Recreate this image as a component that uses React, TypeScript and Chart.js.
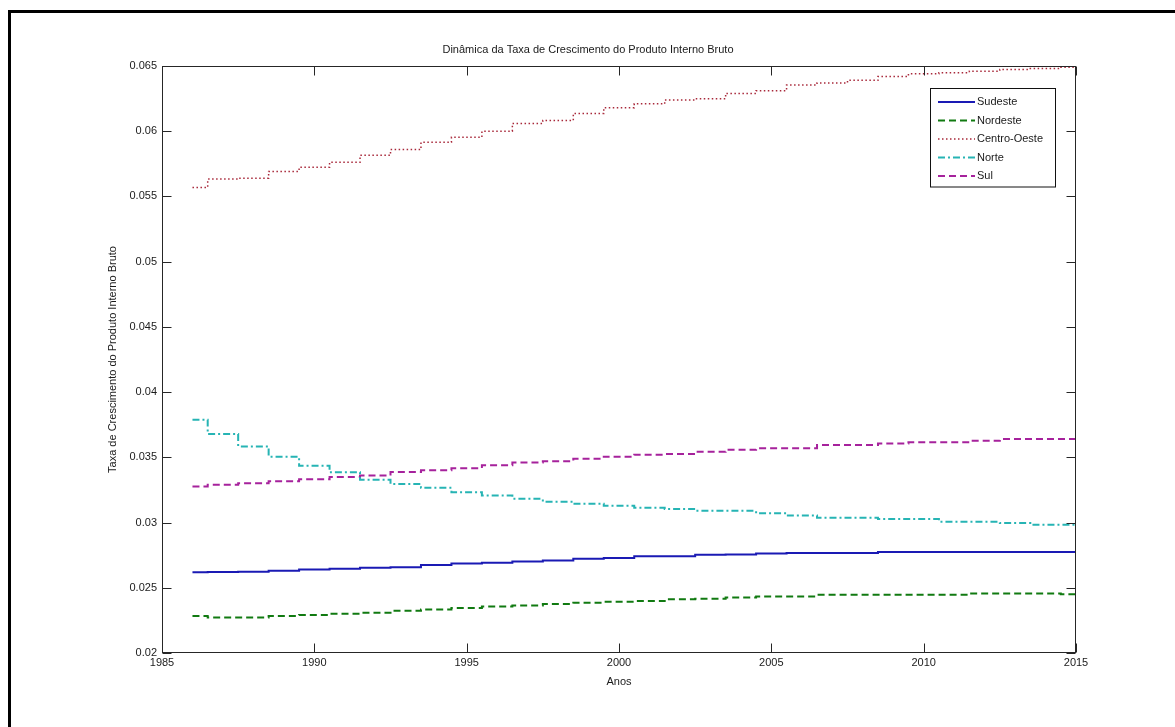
import React, { useEffect, useRef } from "react";
import { Chart, registerables } from "chart.js";

Chart.register(...registerables);

const chartTitle = "Dinâmica da Taxa de Crescimento do Produto Interno Bruto";
const xAxisTitle = "Anos";
const yAxisTitle = "Taxa de Crescimento do Produto Interno Bruto";

const years = [
  1986, 1987, 1988, 1989, 1990, 1991, 1992, 1993, 1994, 1995,
  1996, 1997, 1998, 1999, 2000, 2001, 2002, 2003, 2004, 2005,
  2006, 2007, 2008, 2009, 2010, 2011, 2012, 2013, 2014, 2015,
];

const sudeste = [
  0.02619, 0.0262, 0.02622, 0.0263, 0.0264, 0.02645, 0.02653, 0.02658, 0.02675, 0.02686,
  0.02692, 0.02701, 0.0271, 0.02722, 0.02729, 0.02742, 0.02742, 0.02754, 0.02756, 0.02762,
  0.02767, 0.02767, 0.02767, 0.02775, 0.02775, 0.02775, 0.02775, 0.02775, 0.02775, 0.02775,
];

const nordeste = [
  0.02283, 0.02273, 0.02273, 0.02283, 0.02291, 0.02301, 0.02309, 0.02324, 0.02334, 0.02345,
  0.02357, 0.02365, 0.02375, 0.02385, 0.02392, 0.02398, 0.02413, 0.02416, 0.02426, 0.02434,
  0.02434, 0.02446, 0.02446, 0.02446, 0.02446, 0.02446, 0.02457, 0.02457, 0.02457, 0.02451,
];

const centroOeste = [
  0.05569, 0.05633, 0.0564, 0.05692, 0.05723, 0.05762, 0.05815, 0.05859, 0.05915, 0.05954,
  0.06, 0.06059, 0.06082, 0.06136, 0.0618, 0.0621, 0.0624, 0.06249, 0.0629, 0.0631,
  0.06354, 0.0637, 0.0639, 0.0642, 0.0644, 0.06449, 0.0646, 0.06474, 0.0648, 0.0649,
];

const norte = [
  0.03788, 0.03678, 0.03584, 0.03505, 0.03436, 0.03385, 0.03329, 0.03296, 0.03266, 0.03233,
  0.03207, 0.03182, 0.0316, 0.03144, 0.03129, 0.03113, 0.03103, 0.0309, 0.0309, 0.03072,
  0.03055, 0.03037, 0.03037, 0.03027, 0.03027, 0.03006, 0.03006, 0.02996, 0.02983, 0.02983,
];

const sul = [
  0.03276, 0.03289, 0.03302, 0.03317, 0.03332, 0.0335, 0.0336, 0.03388, 0.03401, 0.03416,
  0.0344, 0.0346, 0.0347, 0.0349, 0.03505, 0.0352, 0.03525, 0.03543, 0.03559, 0.0357,
  0.0357, 0.03594, 0.03594, 0.03607, 0.03615, 0.03615, 0.03627, 0.0364, 0.0364, 0.0364,
];

const seriesNames = ["Sudeste", "Nordeste", "Centro-Oeste", "Norte", "Sul"];

const xTicks = [1985, 1990, 1995, 2000, 2005, 2010, 2015];
const xTickLabels = ["1985", "1990", "1995", "2000", "2005", "2010", "2015"];
const yTicks = [0.02, 0.025, 0.03, 0.035, 0.04, 0.045, 0.05, 0.055, 0.06, 0.065];
const yTickLabels = ["0.02", "0.025", "0.03", "0.035", "0.04", "0.045", "0.05", "0.055", "0.06", "0.065"];

const FONT_FAMILY = "'Liberation Sans', Arial, Helvetica, sans-serif";
const TEXT_COLOR = "#1a1a1a";

const framePlugin = {
  id: "matlabFrame",
  beforeDraw(chart: any) {
    const { ctx, width, height } = chart;
    ctx.save();
    ctx.fillStyle = "#ffffff";
    ctx.fillRect(0, 0, width, height);
    ctx.fillStyle = "#000000";
    ctx.fillRect(8, 10, width - 8, 3);
    ctx.fillRect(8, 10, 3, height - 10);
    ctx.restore();
  },
  afterDraw(chart: any) {
    const { ctx, chartArea: a, scales } = chart;
    const xs = scales.x;
    const ys = scales.y;
    ctx.save();
    ctx.setLineDash([]);
    ctx.lineWidth = 1;
    ctx.strokeStyle = "#262626";
    const L = Math.round(a.left) + 0.5;
    const R = Math.round(a.right) - 0.5;
    const T = Math.round(a.top) + 0.5;
    const B = Math.round(a.bottom) - 0.5;
    ctx.strokeRect(L, T, R - L, B - T);
    const tl = 9;
    ctx.beginPath();
    for (const t of xs.ticks) {
      const px = Math.round(xs.getPixelForValue(t.value)) + 0.5;
      ctx.moveTo(px, B);
      ctx.lineTo(px, B - tl);
      ctx.moveTo(px, T);
      ctx.lineTo(px, T + tl);
    }
    for (const t of ys.ticks) {
      const py = Math.round(ys.getPixelForValue(t.value)) + 0.5;
      ctx.moveTo(L, py);
      ctx.lineTo(L + tl, py);
      ctx.moveTo(R, py);
      ctx.lineTo(R - tl, py);
    }
    ctx.stroke();

    // legend
    const datasets = chart.data.datasets;
    const boxW = 125;
    const rowH = 18.5;
    const boxX = Math.round(a.right) - 21 - boxW;
    const boxY = Math.round(a.top) + 22;
    const boxH = rowH * datasets.length + 6;
    ctx.fillStyle = "#ffffff";
    ctx.fillRect(boxX, boxY, boxW, boxH);
    ctx.strokeStyle = "#111111";
    ctx.strokeRect(boxX + 0.5, boxY + 0.5, boxW, boxH);
    ctx.font = `11px ${FONT_FAMILY}`;
    ctx.textBaseline = "middle";
    ctx.textAlign = "left";
    datasets.forEach((ds: any, i: number) => {
      const cy = boxY + 14 + i * rowH;
      ctx.save();
      ctx.strokeStyle = ds.borderColor;
      ctx.lineWidth = ds.borderWidth;
      ctx.setLineDash(ds.borderDash || []);
      ctx.beginPath();
      ctx.moveTo(boxX + 8, cy);
      ctx.lineTo(boxX + 45, cy);
      ctx.stroke();
      ctx.restore();
      ctx.fillStyle = TEXT_COLOR;
      ctx.fillText(ds.label, boxX + 47, cy);
    });
    ctx.restore();
  },
};

function toPoints(values: number[]) {
  return years.map((x, i) => ({ x, y: values[i] }));
}

export default function App() {
  const canvasRef = useRef<HTMLCanvasElement | null>(null);

  useEffect(() => {
    const canvas = canvasRef.current;
    if (!canvas) return;
    const font = { family: FONT_FAMILY, size: 11, weight: "normal" as const };
    const series = [sudeste, nordeste, centroOeste, norte, sul];
    const colors = ["#1a1ab4", "#117a11", "#a8283a", "#26b4b4", "#a6229c"];
    const dashes = [[], [7, 4], [1.5, 2.5], [7, 3, 2, 3], [7, 4]];
    const widths = [2, 2, 1.5, 2, 2];

    const chart = new Chart(canvas, {
      type: "line",
      data: {
        datasets: series.map((vals, i) => ({
          label: seriesNames[i],
          data: toPoints(vals),
          borderColor: colors[i],
          backgroundColor: colors[i],
          borderWidth: widths[i],
          borderDash: dashes[i],
          pointRadius: 0,
          pointHoverRadius: 0,
          stepped: "middle" as const,
          fill: false,
          tension: 0,
        })),
      },
      options: {
        animation: false,
        responsive: false,
        devicePixelRatio: 1,
        events: [],
        layout: { padding: { left: 100, right: 99, top: 0, bottom: 34 } },
        plugins: {
          legend: { display: false },
          tooltip: { enabled: false },
          title: {
            display: true,
            text: chartTitle,
            color: TEXT_COLOR,
            font,
            padding: { top: 43, bottom: 9.8 },
          },
        },
        scales: {
          x: {
            type: "linear",
            min: 1985,
            max: 2015,
            grid: { display: false, drawTicks: false },
            border: { display: false },
            ticks: {
              color: TEXT_COLOR,
              font,
              padding: 3,
              autoSkip: false,
              maxRotation: 0,
              callback: (_v: any, idx: number) => xTickLabels[idx],
            },
            afterBuildTicks: (s: any) => {
              s.ticks = xTicks.map((value) => ({ value }));
            },
            afterFit: (s: any) => {
              s.height = 40;
            },
            title: {
              display: true,
              text: xAxisTitle,
              color: TEXT_COLOR,
              font,
              padding: { top: 0, bottom: 4 },
            },
          },
          y: {
            type: "linear",
            min: 0.02,
            max: 0.065,
            grid: { display: false, drawTicks: false },
            border: { display: false },
            ticks: {
              color: TEXT_COLOR,
              font,
              padding: 5,
              autoSkip: false,
              callback: (_v: any, idx: number) => yTickLabels[idx],
            },
            afterBuildTicks: (s: any) => {
              s.ticks = yTicks.map((value) => ({ value }));
            },
            afterFit: (s: any) => {
              s.width = 62;
            },
            title: {
              display: true,
              text: yAxisTitle,
              color: TEXT_COLOR,
              font,
              padding: { top: 6, bottom: 0 },
            },
          },
        },
      },
      plugins: [framePlugin],
    });

    return () => chart.destroy();
  }, []);

  return (
    <div style={{ position: "fixed", left: 0, top: 0, width: 1175, height: 727, background: "#fff" }}>
      <canvas ref={canvasRef} width={1175} height={727} style={{ display: "block", width: 1175, height: 727 }} />
    </div>
  );
}
